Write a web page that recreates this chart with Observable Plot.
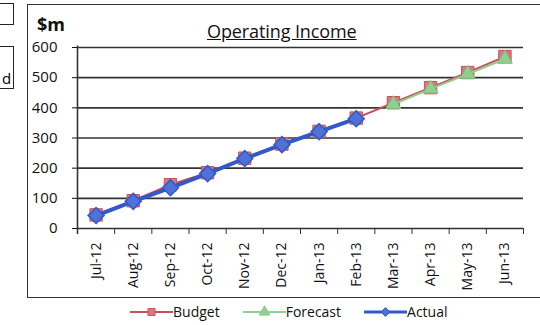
<!DOCTYPE html>
<html><head><meta charset="utf-8">
<script src="https://cdn.jsdelivr.net/npm/d3@7"></script>
<script src="https://cdn.jsdelivr.net/npm/@observablehq/plot@0.6"></script>
<style>
body{margin:0;background:#fff;font-family:"Open Sans",sans-serif;}
#wrap{position:relative;width:540px;height:325px;overflow:hidden;}
#wrap svg.plot{position:absolute;left:0;top:0;}
.box{position:absolute;border:1.5px solid #222;background:#fff;}
#title{position:absolute;left:207px;top:21px;font-size:18px;line-height:20px;text-decoration:underline;color:#111;letter-spacing:-0.1px;}
#unit{position:absolute;left:37px;top:15px;font-size:18px;line-height:18px;font-weight:bold;color:#111;}
#legend{position:absolute;left:130px;top:302px;font-size:14px;color:#111;display:flex;align-items:center;white-space:nowrap;}
#legend span{margin-right:23px;display:flex;align-items:center;}
#frame{position:absolute;left:27px;top:4px;width:515px;height:292px;border:1.5px solid #333;}
</style></head>
<body><div id="wrap">
<div id="frame"></div>
<div class="box" style="left:-10px;top:3px;width:22px;height:20px"></div>
<div class="box" style="left:-10px;top:46px;width:22px;height:41px"><div style="position:absolute;left:11px;top:24px;font-size:15px;line-height:15px">d</div></div>
</div>
<script>
const months = ["Jul-12","Aug-12","Sep-12","Oct-12","Nov-12","Dec-12","Jan-13","Feb-13","Mar-13","Apr-13","May-13","Jun-13"];
const budget = [45, 92, 145, 185, 233, 280, 322, 366, 417, 467, 517, 570];
const forecastMonths = ["Mar-13","Apr-13","May-13","Jun-13"];
const forecast = [412, 463, 512, 562];
const actualMonths = ["Jul-12","Aug-12","Sep-12","Oct-12","Nov-12","Dec-12","Jan-13","Feb-13"];
const actual = [43, 90, 135, 182, 232, 278, 321, 364];
const yTicks = [0, 100, 200, 300, 400, 500, 600];

const idx = m => months.indexOf(m);
const budgetData = months.map((m, i) => ({i, v: budget[i]}));
const forecastData = forecastMonths.map((m, k) => ({i: idx(m), v: forecast[k]}));
const actualData = actualMonths.map((m, k) => ({i: idx(m), v: actual[k]}));
const bounds = d3.range(months.length + 1).map(k => k - 0.5);

const cB = "#c8505a", cBf = "#d67a80", cF = "#8fcf8f", cA = "#3358c8", cAf = "#4d72d8";

const chart = Plot.plot({
  width: 540, height: 325,
  marginLeft: 77, marginRight: 17, marginTop: 47, marginBottom: 97,
  style: {fontFamily: "Open Sans, sans-serif", fontSize: "14px", color: "#111", background: "transparent"},
  x: {type: "linear", domain: [-0.5, months.length - 0.5]},
  y: {domain: [0, 600]},
  marks: [
    Plot.ruleY(yTicks.filter(t => t > 0), {stroke: "#333", strokeWidth: 1.6}),
    Plot.ruleY([0], {stroke: "#333", strokeWidth: 1.6}),
    Plot.ruleX([-0.5], {y1: -20, y2: 605, stroke: "#333", strokeWidth: 1.6}),
    Plot.axisY({ticks: yTicks, tickSize: 5, tickPadding: 15, label: null, fontSize: 15}),
    Plot.axisX({ticks: bounds, tickFormat: () => "", tickSize: 6, label: null, stroke: "#333"}),
    Plot.axisX({ticks: d3.range(months.length), tickFormat: i => months[i], tickSize: 0, tickPadding: 14, tickRotate: -90, label: null, fontSize: 14}),
    Plot.line(budgetData, {x: "i", y: "v", stroke: cB, strokeWidth: 2}),
    Plot.dot(budgetData, {x: "i", y: "v", symbol: "square", r: 7, fill: cBf, stroke: cB, strokeWidth: 1}),
    Plot.line(forecastData, {x: "i", y: "v", stroke: cF, strokeWidth: 2}),
    Plot.dot(forecastData, {x: "i", y: "v", symbol: "triangle", r: 5.5, fill: cF, stroke: "#7cbf7c", strokeWidth: 1}),
    Plot.line(actualData, {x: "i", y: "v", stroke: cA, strokeWidth: 4}),
    Plot.dot(actualData, {x: "i", y: "v", symbol: "diamond2", r: 7.2, fill: cAf, stroke: cA, strokeWidth: 1.5})
  ]
});
chart.classList.add("plot");
const wrap = document.getElementById("wrap");
wrap.appendChild(chart);

const t = document.createElement("div"); t.id = "title"; t.textContent = "Operating Income"; wrap.appendChild(t);
const u = document.createElement("div"); u.id = "unit"; u.textContent = "$m"; wrap.appendChild(u);

const legendItems = [
  {name: "Budget", stroke: cB, fill: cBf, sym: d3.symbolSquare},
  {name: "Forecast", stroke: cF, fill: cF, sym: d3.symbolTriangle},
  {name: "Actual", stroke: cA, fill: cAf, sym: d3.symbolDiamond2}
];
const lg = document.createElement("div"); lg.id = "legend";
for (const it of legendItems) {
  const s = document.createElement("span");
  const svg = d3.create("svg").attr("width", 43).attr("height", 14);
  svg.append("line").attr("x1", 0).attr("x2", 43).attr("y1", 7).attr("y2", 7).attr("stroke", it.stroke).attr("stroke-width", it.name === "Actual" ? 3 : 2);
  svg.append("path").attr("transform", "translate(21.5,7)").attr("d", d3.symbol(it.sym, 50)()).attr("fill", it.fill).attr("stroke", it.stroke);
  s.appendChild(svg.node());
  s.appendChild(document.createTextNode(it.name));
  lg.appendChild(s);
}
wrap.appendChild(lg);
</script>
</body></html>
